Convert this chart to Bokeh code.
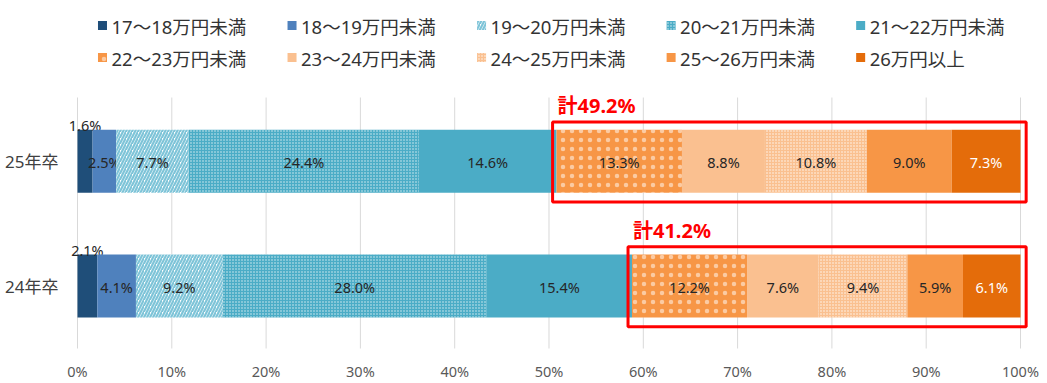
from bokeh.plotting import figure
from bokeh.models import Range1d, ColumnDataSource
from bokeh.core.properties import value
from bokeh.embed import file_html
from bokeh.resources import INLINE

# ---------------- data ----------------
categories = ["25年卒", "24年卒"]
series = ["17～18万円未満", "18～19万円未満", "19～20万円未満", "20～21万円未満",
          "21～22万円未満", "22～23万円未満", "23～24万円未満", "24～25万円未満",
          "25～26万円未満", "26万円以上"]
values_25 = [1.6, 2.5, 7.7, 24.4, 14.6, 13.3, 8.8, 10.8, 9.0, 7.3]
values_24 = [2.1, 4.1, 9.2, 28.0, 15.4, 12.2, 7.6, 9.4, 5.9, 6.1]
x_ticks = [0, 10, 20, 30, 40, 50, 60, 70, 80, 90, 100]
x_tick_labels = ["0%", "10%", "20%", "30%", "40%", "50%", "60%", "70%", "80%", "90%", "100%"]
highlight_from = 5   # first series in the red box group

# ---------------- styles ----------------
styles = [
    dict(fill_color="#1F4E79"),
    dict(fill_color="#4F81BD"),
    dict(fill_color="#FFFFFF", hatch_pattern="right_diagonal_line", hatch_color="#7EC4D8",
         hatch_scale=6, hatch_weight=2.2),
    dict(fill_color="#4BACC6", hatch_pattern="dot", hatch_color="#FFFFFF",
         hatch_scale=3, hatch_weight=1, hatch_alpha=0.8),
    dict(fill_color="#4BACC6"),
    dict(fill_color="#F79646", hatch_pattern="dot", hatch_color="#FFFFFF",
         hatch_scale=9, hatch_weight=1, hatch_alpha=0.5),
    dict(fill_color="#FAC090"),
    dict(fill_color="#FAC090", hatch_pattern="dot", hatch_color="#FFFFFF",
         hatch_scale=3, hatch_weight=1, hatch_alpha=0.9),
    dict(fill_color="#F79646"),
    dict(fill_color="#E46C0A"),
]
label_colors = ["#262626"] * 9 + ["#FFFFFF"]
CJK = "Noto Sans, Noto Sans CJK JP"
NUM = "Noto Sans"
bar_h = 0.505

all_values = [values_25, values_24]
ypos = [len(categories) - 1 - i for i in range(len(categories))]

W, H = 1047, 383
p = figure(width=W, height=H, output_backend="svg", toolbar_location=None,
           x_range=Range1d(-8.165, 102.863), y_range=Range1d(-0.78125, 2.2877),
           x_axis_location=None, y_axis_location=None,
           min_border_left=0, min_border_right=0, min_border_top=0, min_border_bottom=0)
p.outline_line_color = None
p.xgrid.visible = False
p.ygrid.visible = False
p.background_fill_color = "white"

grid_bottom, grid_top, tick_label_y = -0.5008, 1.5104, -0.681

# gridlines + tick labels
p.segment(x0=x_ticks, x1=x_ticks, y0=[grid_bottom] * len(x_ticks), y1=[grid_top] * len(x_ticks),
          line_color="#D9D9D9", line_width=1)
p.text(x=x_ticks, y=[tick_label_y] * len(x_ticks), text=x_tick_labels, text_font=value(NUM),
       text_font_size="14.5px", text_color="#595959", text_align="center", text_baseline="middle")

# category labels
p.text(x=[0] * len(categories), y=ypos, text=categories, text_font=value(CJK),
       text_font_size="17px", text_color="#404040", text_align="right", text_baseline="middle",
       x_offset=-19)

# bars
for j, name in enumerate(series):
    lefts, rights, ys, cx, txt = [], [], [], [], []
    for ci, vals in enumerate(all_values):
        l = sum(vals[:j])
        lefts.append(l)
        rights.append(l + vals[j])
        ys.append(ypos[ci])
        cx.append(l + vals[j] / 2)
        txt.append(f"{vals[j]:.1f}%")
    src = ColumnDataSource(dict(y=ys, left=lefts, right=rights, cx=cx, txt=txt))
    p.hbar(y="y", left="left", right="right", height=bar_h, source=src,
           line_color=None, **styles[j])
    p.text(x="cx", y="y", text="txt", source=src, text_font=value(NUM),
           text_font_size="14.5px", text_color=label_colors[j], text_align="center",
           text_baseline="middle", y_offset=(-36 if j == 0 else 1))

# red highlight boxes and totals
bl, br, bt, bb, tx, tt = [], [], [], [], [], []
for ci, vals in enumerate(all_values):
    start = sum(vals[:highlight_from])
    total = sum(vals[highlight_from:])
    bl.append(start - 0.42)
    br.append(100.6)
    bt.append(ypos[ci] + bar_h / 2 + 0.062)
    bb.append(ypos[ci] - bar_h / 2 - 0.074)
    tx.append(start)
    tt.append(f"計{total:.1f}%")
p.quad(left=bl, right=br, top=bt, bottom=bb, fill_alpha=0, line_color="#FF0000", line_width=3)
p.text(x=tx, y=bt, text=tt, text_font=value(CJK), text_font_size="20px",
       text_font_style="bold", text_color="#FF0000", text_align="left",
       text_baseline="bottom", y_offset=-3, x_offset=1)

# legend (manual)
leg_x0, leg_pitch = 2.65, 20.1
leg_rows = [2.087, 1.831]
for i, name in enumerate(series):
    r, c = divmod(i, 5)
    lx = leg_x0 + c * leg_pitch
    ly = leg_rows[r]
    p.rect(x=[lx], y=[ly], width=9, height=9, width_units="screen", height_units="screen",
           line_color=None, **styles[i])
    p.text(x=[lx], y=[ly], text=[name], text_font=value(CJK), text_font_size="18.5px",
           text_color="#333333", text_align="left", text_baseline="middle", x_offset=9, y_offset=1)

open("out.html", "w").write(file_html(p, INLINE))
